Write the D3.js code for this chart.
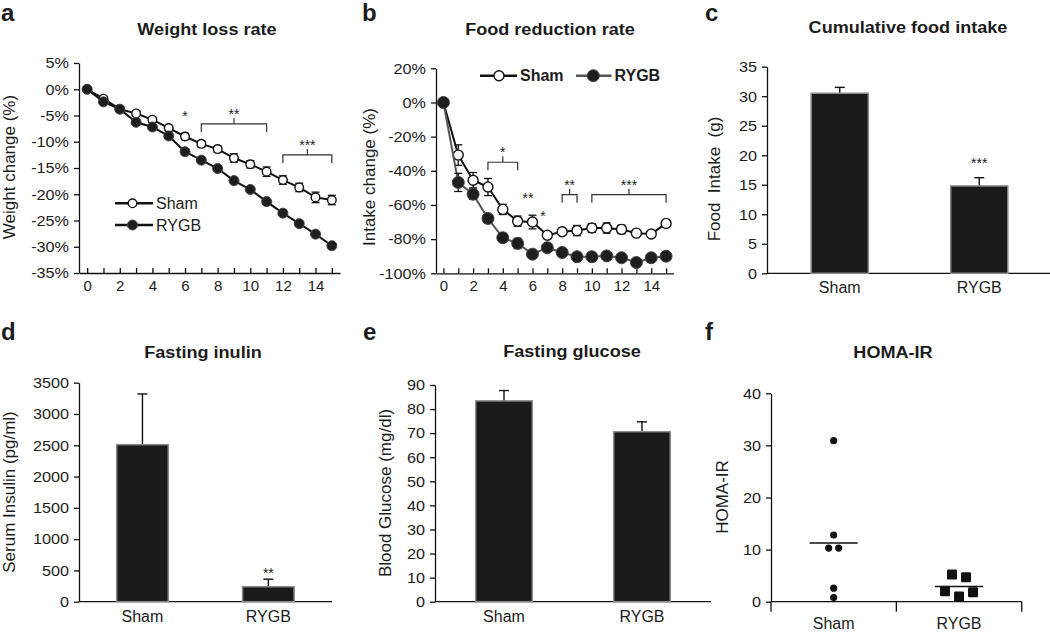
<!DOCTYPE html>
<html>
<head>
<meta charset="utf-8">
<script src="https://cdn.jsdelivr.net/npm/d3@7"></script>
<style>
  body { margin: 0; background: #fff; }
  svg text { font-family: "Liberation Sans", Arial, sans-serif; fill: #1c1c1c; }
</style>
</head>
<body>
<script>
// ---- data ----
const days = [0, 1, 2, 3, 4, 5, 6, 7, 8, 9, 10, 11, 12, 13, 14, 15];
const groups = ["Sham", "RYGB"];

// a: weight change (%)
const weightSham    = [0, -1.8, -3.8, -4.6, -5.8, -7.4, -9.0, -10.4, -11.4, -13.1, -14.3, -15.7, -17.3, -18.7, -20.6, -21.1];
const weightShamErr = [0, 0.4, 0.3, 0.5, 0.5, 0.5, 0.6, 0.6, 0.6, 0.8, 0.7, 0.9, 0.8, 0.8, 1.0, 0.9];
const weightRygb    = [0, -2.4, -3.8, -6.3, -7.2, -8.9, -11.9, -13.5, -15.1, -17.4, -19.1, -21.4, -23.6, -25.6, -27.6, -29.8];
const weightRygbErr = [0, 0.3, 0.3, 0.4, 0.4, 0.4, 0.4, 0.3, 0.4, 0.4, 0.3, 0.4, 0.4, 0.3, 0.4, 0.4];
const weightTicks = [5, 0, -5, -10, -15, -20, -25, -30, -35];

// b: intake change (%)
const foodSham    = [0, -30.8, -45.5, -49.5, -62.6, -69.5, -70.0, -77.7, -75.7, -75.0, -73.5, -73.5, -74.3, -76.5, -77.0, -70.8];
const foodShamErr = [0, 6, 4.5, 5, 3, 3, 4, 2, 2, 3, 2.5, 3, 2.5, 1.5, 1.5, 1.5];
const foodRygb    = [0, -46.8, -53.7, -67.9, -79.2, -82.5, -88.8, -85.0, -87.8, -90.3, -90.3, -89.8, -90.9, -93.7, -90.9, -90.0];
const foodRygbErr = [0, 5.3, 3, 1.5, 2.5, 3, 1.5, 1.5, 1.5, 1.5, 1.5, 1.5, 1.5, 1.5, 1.5, 1.5];
const foodTicks = [20, 0, -20, -40, -60, -80, -100];

// significance marks (from, to in days; level in data units)
const weightBrackets = [{ from: 7, to: 11, level: -6.6, label: "**" }, { from: 12, to: 15, level: -12.5, label: "***" }];
const weightStars = [{ at: 6, level: -4.5, label: "*" }];
const foodBrackets = [
  { from: 3, to: 5, level: -35, label: "*" },
  { from: 8, to: 9, level: -54, label: "**" },
  { from: 10, to: 15, level: -54, label: "***" }
];
const foodStars = [{ at: 5.7, level: -54, label: "**" }, { at: 6.7, level: -64.7, label: "*" }];

// c-e: bar charts
const foodIntake = [30.5, 14.8], foodIntakeErr = [1.0, 1.4];
const foodIntakeTicks = [0, 5, 10, 15, 20, 25, 30, 35];
const insulin = [2510, 240], insulinErr = [810, 120];
const insulinTicks = [0, 500, 1000, 1500, 2000, 2500, 3000, 3500];
const glucose = [83.4, 70.6], glucoseErr = [4.3, 4.1];
const glucoseTicks = [0, 10, 20, 30, 40, 50, 60, 70, 80, 90];

// f: HOMA-IR individual values
const homaSham = [30.9, 12.8, 10.3, 10.3, 2.6, 0.8];
const homaRygb = [5.2, 4.7, 2.0, 1.0, 1.8];
const homaTicks = [0, 10, 20, 30, 40];

// ---- drawing ----
const svg = d3.select("body").append("svg").attr("width", 1050).attr("height", 632);

// widen text horizontally about its anchor point (the figure's lettering is stretched)
function stretch(sel, s) {
  sel.each(function () {
    const x = +d3.select(this).attr("x") || 0;
    d3.select(this).attr("transform", `translate(${x * (1 - s)},0) scale(${s},1)`);
  });
}

function styleAxis(ax, size) {
  ax.select(".domain").attr("stroke", "#111").attr("stroke-width", 1.3);
  ax.selectAll(".tick line").attr("stroke", "#111").attr("stroke-width", 1.3);
  ax.selectAll(".tick text").attr("font-size", size).attr("fill", "#1c1c1c")
    .attr("font-family", '"Liberation Sans", Arial, sans-serif');
}

function letter(t, x, y) {
  svg.append("text").attr("x", x).attr("y", y).attr("font-size", 24).attr("font-weight", "bold").text(t);
}
function title(t, x, y) {
  svg.append("text").attr("x", x).attr("y", y).attr("text-anchor", "middle")
    .attr("font-size", 16).attr("font-weight", "bold").text(t).call(stretch, 1.13);
}
function yLabel(t, x, y) {
  svg.append("text").attr("transform", `translate(${x},${y}) rotate(-90)`)
    .attr("text-anchor", "middle").attr("dy", "0.35em").attr("font-size", 17)
    .style("white-space", "pre").text(t);
}
function star(g, x, y, label) {
  g.append("text").attr("x", x).attr("y", y + 8).attr("text-anchor", "middle")
    .attr("font-size", 14).text(label);
}

function lineChart(o) {
  const g = svg.append("g");
  const x = d3.scaleLinear().domain([-0.5, 15.5]).range([o.x0, o.x1]);
  const y = d3.scaleLinear().domain(o.yDomain).range([o.y1, o.y0]);

  const yAx = g.append("g").attr("transform", `translate(${o.x0},0)`)
    .call(d3.axisLeft(y).tickValues(o.yTicks).tickSize(5).tickSizeOuter(0).tickPadding(5)
      .tickFormat(d => d + "%"));
  styleAxis(yAx, 15);
  stretch(yAx.selectAll(".tick text"), 1.08);

  const xAx = g.append("g").attr("transform", `translate(0,${o.y1})`)
    .call(d3.axisBottom(x).tickValues(days).tickSize(-5).tickSizeOuter(0).tickPadding(7)
      .tickFormat(d => (d % 2 ? "" : d)));
  styleAxis(xAx, 15);

  const line = d3.line().x((d, i) => x(days[i])).y(d => y(d));

  o.series.forEach(s => {
    const sg = g.append("g");
    sg.append("path").datum(s.values).attr("d", line)
      .attr("fill", "none").attr("stroke", s.lineColor).attr("stroke-width", 2);
    const eb = sg.selectAll(".eb").data(s.values).join("g")
      .attr("stroke", "#111").attr("stroke-width", 1.3);
    eb.append("line")
      .attr("x1", (d, i) => x(days[i])).attr("x2", (d, i) => x(days[i]))
      .attr("y1", (d, i) => y(d - s.err[i])).attr("y2", (d, i) => y(d + s.err[i]));
    [-1, 1].forEach(sign => {
      eb.append("line")
        .attr("x1", (d, i) => x(days[i]) - 4).attr("x2", (d, i) => x(days[i]) + 4)
        .attr("y1", (d, i) => y(d + sign * s.err[i])).attr("y2", (d, i) => y(d + sign * s.err[i]));
    });
    sg.selectAll("circle").data(s.values).join("circle")
      .attr("cx", (d, i) => x(days[i])).attr("cy", d => y(d)).attr("r", s.r)
      .attr("fill", s.filled ? "#1e1e1e" : "#fff")
      .attr("stroke", s.filled ? "#444" : "#111").attr("stroke-width", s.filled ? 1 : 1.4);
  });

  o.brackets.forEach(b => {
    const yy = y(b.level), x1 = x(b.from), x2 = x(b.to), xm = (x1 + x2) / 2;
    g.append("path")
      .attr("d", `M${x1},${yy + 8}V${yy}H${x2}V${yy + 8}M${xm},${yy}V${yy - 6}`)
      .attr("fill", "none").attr("stroke", "#333").attr("stroke-width", 1.2);
    star(g, xm, yy - 13, b.label);
  });
  o.stars.forEach(s => star(g, x(s.at), y(s.level), s.label));

  // legend
  o.series.forEach((s, i) => {
    const L = o.legend[i];
    g.append("line").attr("x1", L.x1).attr("x2", L.x2).attr("y1", L.y).attr("y2", L.y)
      .attr("stroke", s.lineColor).attr("stroke-width", 2.5);
    g.append("circle").attr("cx", L.mx).attr("cy", L.y).attr("r", s.r)
      .attr("fill", s.filled ? "#1e1e1e" : "#fff")
      .attr("stroke", s.filled ? "#444" : "#111").attr("stroke-width", s.filled ? 1 : 1.4);
    g.append("text").attr("x", L.x2 + 3).attr("y", L.y).attr("dy", "0.36em")
      .attr("font-size", o.legendSize).attr("font-weight", o.legendWeight).text(s.name);
  });
}

function yAxisFor(g, y, x0, ticks) {
  const ax = g.append("g").attr("transform", `translate(${x0},0)`)
    .call(d3.axisLeft(y).tickValues(ticks).tickSize(5).tickSizeOuter(0).tickPadding(5)
      .tickFormat(d => String(d)));
  styleAxis(ax, 15);
  stretch(ax.selectAll(".tick text"), 1.08);
}

function barChart(o) {
  const g = svg.append("g");
  const x = d3.scaleBand().domain(groups).range(o.band);
  const y = d3.scaleLinear().domain(o.yDomain).range([o.y1, o.y0]);
  yAxisFor(g, y, o.x0, o.yTicks);
  g.append("line").attr("x1", o.x0).attr("x2", o.xEnd).attr("y1", o.y1).attr("y2", o.y1)
    .attr("stroke", "#111").attr("stroke-width", 1.3);

  const bw = x.bandwidth() * 0.41;
  const cx = d => x(d) + x.bandwidth() / 2;
  const eb = g.selectAll(".err").data(groups).join("g").attr("stroke", "#111").attr("stroke-width", 1.4);
  eb.append("line").attr("x1", cx).attr("x2", cx)
    .attr("y1", (d, i) => y(o.values[i])).attr("y2", (d, i) => y(o.values[i] + o.err[i]));
  eb.append("line").attr("x1", d => cx(d) - 5).attr("x2", d => cx(d) + 5)
    .attr("y1", (d, i) => y(o.values[i] + o.err[i])).attr("y2", (d, i) => y(o.values[i] + o.err[i]));
  g.selectAll("rect").data(groups).join("rect")
    .attr("x", d => cx(d) - bw / 2).attr("width", bw)
    .attr("y", (d, i) => y(o.values[i])).attr("height", (d, i) => y(0) - y(o.values[i]))
    .attr("fill", "#1a1a1a").attr("stroke", "#8c8c8c").attr("stroke-width", 1.5);

  g.selectAll(".cat").data(groups).join("text")
    .attr("x", cx).attr("y", o.y1 + 20).attr("text-anchor", "middle").attr("font-size", 16).text(d => d);
  (o.stars || []).forEach(s => star(g, cx(s.group), y(s.level), s.label));
}

function dotChart(o) {
  const g = svg.append("g");
  const x = d3.scaleBand().domain(groups).range(o.band);
  const y = d3.scaleLinear().domain(o.yDomain).range([o.y1, o.y0]);
  yAxisFor(g, y, o.band[0], o.yTicks);
  g.append("line").attr("x1", o.band[0]).attr("x2", o.band[1]).attr("y1", o.y1).attr("y2", o.y1)
    .attr("stroke", "#111").attr("stroke-width", 1.3);
  // category boundary ticks
  const bounds = [o.band[0], x("RYGB"), o.band[1]];
  g.selectAll(".bt").data(bounds).join("line")
    .attr("x1", d => d).attr("x2", d => d).attr("y1", o.y1).attr("y2", o.y1 + 10)
    .attr("stroke", "#111").attr("stroke-width", 1.3);
  const cx = d => x(d) + x.bandwidth() / 2;

  // simple swarm: neighbours that would overlap are spread side by side
  function swarm(vals, size, gap) {
    const out = [];
    let grp = [];
    const flush = () => {
      grp.forEach((v, k) => out.push({ v, dx: (k - (grp.length - 1) / 2) * gap }));
      grp = [];
    };
    vals.forEach(v => {
      if (grp.length && Math.abs(y(v) - y(grp[grp.length - 1])) >= size) flush();
      grp.push(v);
    });
    flush();
    return out;
  }

  const sham = swarm(o.sham, 7, 10);
  g.selectAll(".pt").data(sham).join("circle")
    .attr("cx", d => cx("Sham") + d.dx).attr("cy", d => y(d.v)).attr("r", 3.6).attr("fill", "#111");
  const ry = swarm(o.rygb, 10, 14);
  g.selectAll(".sq").data(ry).join("rect")
    .attr("x", d => cx("RYGB") + d.dx - 5).attr("y", d => y(d.v) - 5)
    .attr("width", 10).attr("height", 10).attr("rx", 1.2).attr("fill", "#111");

  [[o.sham, "Sham"], [o.rygb, "RYGB"]].forEach(([vals, grpName]) => {
    const m = d3.mean(vals);
    g.append("line").attr("x1", cx(grpName) - 24).attr("x2", cx(grpName) + 24)
      .attr("y1", y(m)).attr("y2", y(m)).attr("stroke", "#111").attr("stroke-width", 1.5);
  });

  g.selectAll(".cat").data(groups).join("text")
    .attr("x", cx).attr("y", o.y1 + 27).attr("text-anchor", "middle").attr("font-size", 16).text(d => d);
}

// ---- panels ----
letter("a", 1, 21);
title("Weight loss rate", 207, 35);
yLabel("Weight change (%)", 9, 167);
lineChart({
  x0: 79, x1: 340, y0: 63, y1: 273, yDomain: [-35, 5], yTicks: weightTicks,
  series: [
    { name: "Sham", values: weightSham, err: weightShamErr, filled: false, r: 4.3, lineColor: "#111" },
    { name: "RYGB", values: weightRygb, err: weightRygbErr, filled: true, r: 5, lineColor: "#111" }
  ],
  brackets: weightBrackets, stars: weightStars,
  legend: [{ x1: 115, x2: 153, mx: 132.5, y: 203.3 }, { x1: 115, x2: 153, mx: 132.5, y: 225 }],
  legendSize: 16, legendWeight: "normal"
});

letter("b", 362, 21);
title("Food reduction rate", 550, 35);
yLabel("Intake change (%)", 369, 177);
lineChart({
  x0: 436, x1: 673.5, y0: 68.3, y1: 273.3, yDomain: [-100, 20], yTicks: foodTicks,
  series: [
    { name: "Sham", values: foodSham, err: foodShamErr, filled: false, r: 5, lineColor: "#111" },
    { name: "RYGB", values: foodRygb, err: foodRygbErr, filled: true, r: 6, lineColor: "#555" }
  ],
  brackets: foodBrackets, stars: foodStars,
  legend: [{ x1: 480, x2: 517, mx: 499, y: 75.7 }, { x1: 576, x2: 611.5, mx: 593.3, y: 75.7 }],
  legendSize: 16, legendWeight: "bold"
});

letter("c", 705, 21);
title("Cumulative food intake", 908, 33);
yLabel("Food  Intake  (g)", 714, 179);
barChart({
  x0: 767, xEnd: 1050, band: [770, 1049], y0: 66.7, y1: 273.3, yDomain: [0, 35], yTicks: foodIntakeTicks,
  values: foodIntake, err: foodIntakeErr, stars: [{ group: "RYGB", level: 19.2, label: "***" }]
});

letter("d", 1, 340);
title("Fasting inulin", 203, 358);
yLabel("Serum Insulin (pg/ml)", 9, 492);
barChart({
  x0: 79, xEnd: 332, band: [79.5, 331.3], y0: 382.7, y1: 601.7, yDomain: [0, 3500], yTicks: insulinTicks,
  values: insulin, err: insulinErr, stars: [{ group: "RYGB", level: 507, label: "**" }]
});

letter("e", 363, 340);
title("Fasting glucose", 572, 357);
yLabel("Blood Glucose (mg/dl)", 385, 493);
barChart({
  x0: 435, xEnd: 711, band: [435, 711], y0: 385, y1: 601.7, yDomain: [0, 90], yTicks: glucoseTicks,
  values: glucose, err: glucoseErr
});

letter("f", 705, 340);
title("HOMA-IR", 893, 358);
yLabel("HOMA-IR", 722, 497);
dotChart({
  band: [771, 1021.7], y0: 393.3, y1: 601.7, yDomain: [0, 40], yTicks: homaTicks,
  sham: homaSham, rygb: homaRygb
});
</script>
</body>
</html>
